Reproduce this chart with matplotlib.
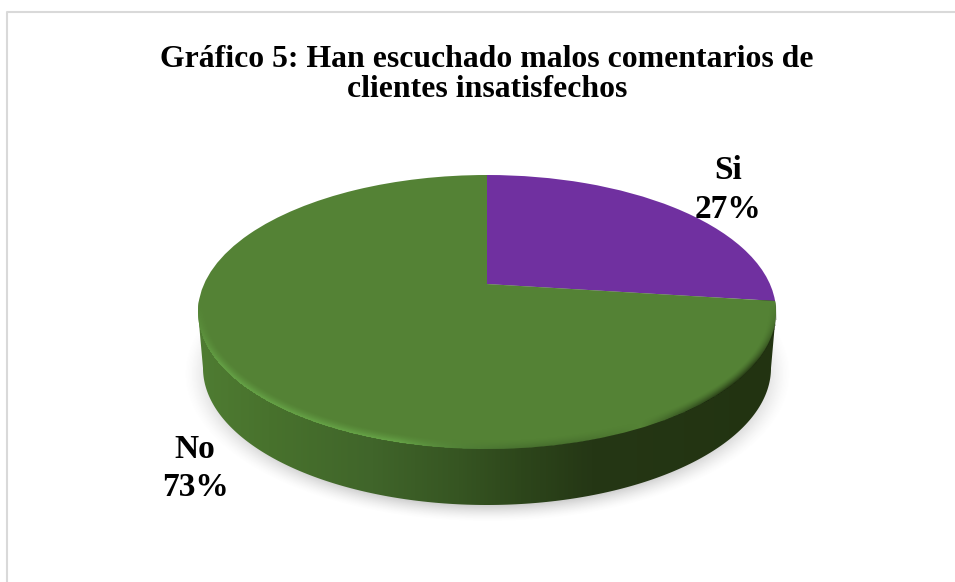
import numpy as np
import matplotlib
matplotlib.use('Agg')
import matplotlib.pyplot as plt
from matplotlib.colors import LinearSegmentedColormap
from matplotlib.patches import Polygon
from matplotlib.transforms import Affine2D, Transform

title = 'Gráfico 5: Han escuchado malos comentarios de\nclientes insatisfechos'
categories = ['Si', 'No']
percents = [27, 73]
slice_colors = ['#7030a0', '#548235']

W, H = 955, 582
CX, CY, RX, RY = 487, 312, 289, 137     # top face ellipse
BX, BY, BRX, BRY = 487, 368, 284, 137   # bottom rim of the disc
TILT = 0.204                            # pie centre sits above the ellipse centre


class Tilt(Transform):
    # projective map of the unit disc onto itself, gives the tilted pie look
    input_dims = 2
    output_dims = 2

    def transform_non_affine(self, xy):
        xy = np.asarray(xy, dtype=float)
        d = 1 + TILT * xy[:, 1]
        return np.column_stack([xy[:, 0] * np.sqrt(1 - TILT ** 2) / d, (xy[:, 1] + TILT) / d])


fig = plt.figure(figsize=(W / 100, H / 100), dpi=100)
ax = fig.add_axes([0, 0, 1, 1])

wedges, _ = ax.pie(percents, colors=slice_colors, startangle=90, counterclock=False)

ax.set_aspect('auto')
ax.set_xlim(0, W)
ax.set_ylim(H, 0)
ax.axis('off')

# chart border, only left and top are inside the crop
ax.plot([6.5, 6.5, W], [H, 11.5, 11.5], color='#d9d9d9', lw=1.5, zorder=1)

xx, yy = np.meshgrid(np.arange(W) + 0.5, np.arange(H) + 0.5)

# soft shadow under the disc
r = np.hypot((xx - BX) / (BRX + 3), (yy - (BY + 6)) / (BRY + 3))
edge = (r - 1) * 140
shadow = np.zeros((H, W, 4))
shadow[..., :3] = 0.45
shadow[..., 3] = 0.33 * np.clip(0.5 - edge / 16, 0, 1) ** 1.5
ax.imshow(shadow, extent=[0, W, H, 0], zorder=2, aspect='auto')

# disc side
t = np.linspace(0, np.pi, 200)
outline = np.vstack([
    np.column_stack([BX + BRX * np.cos(t), BY + BRY * np.sin(t)]),
    np.column_stack([CX + RX * np.cos(t + np.pi), CY + RY * np.sin(t + np.pi)]),
])
side_cmap = LinearSegmentedColormap.from_list('side', [
    (0.0, '#4f7c32'), (0.12, '#48722d'), (0.3, '#40652a'), (0.45, '#365522'),
    (0.56, '#2d461b'), (0.68, '#253715'), (1.0, '#223311'),
])
side = ax.imshow(np.linspace(0, 1, 400)[None, :], cmap=side_cmap, vmin=0, vmax=1,
                 extent=[198, 776, 510, 300], zorder=3, aspect='auto')
clip = Polygon(outline, closed=True, transform=ax.transData, fc='none', ec='none')
ax.add_patch(clip)
side.set_clip_path(clip)

# pie slices on the top face
face = Tilt() + Affine2D().scale(RX, -RY).translate(CX, CY) + ax.transData
for w in wedges:
    w.set_transform(face)
    w.set_edgecolor('none')
    w.set_zorder(4)

# bevel along the rim, light on the left, dark on the right
dx, dy = xx - CX, yy - CY
r = np.hypot(dx / RX, dy / RY)
grad = np.hypot(dx / RX ** 2, dy / RY ** 2) / np.maximum(r, 1e-6)
dist = (1 - r) / np.maximum(grad, 1e-6)     # rough pixel distance to the rim
band = np.clip(1 - dist / 9, 0, 1) ** 1.5 * (r <= 1.0)
band = band * np.clip((yy - 305) / 60, 0, 1)
light = np.clip((640 - xx) / 240, 0, 1)
dark = np.clip((xx - 640) / 90, 0, 1)
bevel = np.zeros((H, W, 4))
bevel[..., 0] = 0.42 * light + 0.12 * dark
bevel[..., 1] = 0.68 * light + 0.18 * dark
bevel[..., 2] = 0.30 * light + 0.06 * dark
bevel[..., 3] = band * np.maximum(light * 0.8, dark * 0.9)
ax.imshow(bevel, extent=[0, W, H, 0], zorder=5, aspect='auto')

serif = 'Liberation Serif'
ax.text(487, 74.5, title, ha='center', va='center', fontsize=22.9, fontweight='bold',
        family=serif, color='black', linespacing=1.07, zorder=6)

label_xy = [(728, 190), (195, 468.5)]
for name, pct, (x, y) in zip(categories, percents, label_xy):
    ax.text(x, y, f'{name}\n{pct}%', ha='center', va='center', fontsize=24, fontweight='bold',
            family=serif, color='black', linespacing=1.3, zorder=6)

fig.savefig('out.png', dpi=100, facecolor='white')
